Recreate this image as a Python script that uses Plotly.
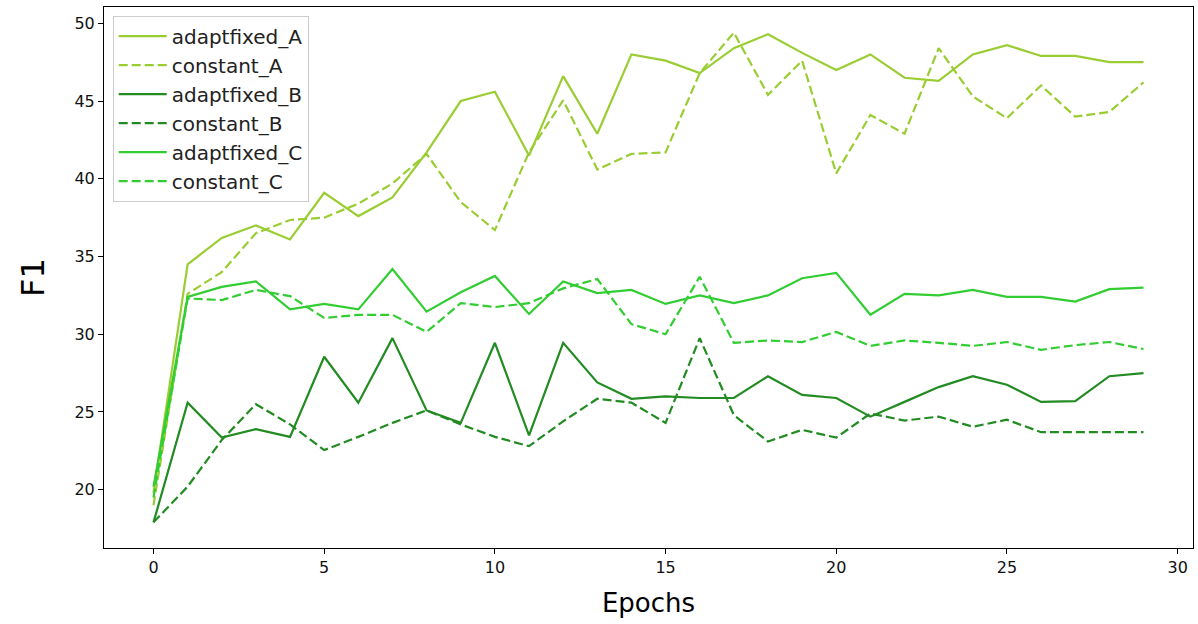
import plotly.graph_objects as go

epochs = list(range(30))

adaptfixed_A = [19.8, 34.5, 36.2, 37.0, 36.1, 39.1, 37.6, 38.8, 41.7, 45.0,
                45.6, 41.5, 46.6, 42.9, 48.0, 47.6, 46.8, 48.4, 49.3, 48.1,
                47.0, 48.0, 46.5, 46.3, 48.0, 48.6, 47.9, 47.9, 47.5, 47.5]
constant_A = [19.0, 32.6, 34.0, 36.5, 37.35, 37.5, 38.4, 39.7, 41.6, 38.5,
              36.7, 41.7, 45.05, 40.6, 41.6, 41.7, 46.8, 49.4, 45.4, 47.6,
              40.35, 44.1, 42.9, 48.4, 45.3, 43.9, 46.0, 44.0, 44.3, 46.2]
adaptfixed_B = [17.9, 25.6, 23.35, 23.9, 23.4, 28.55, 25.6, 29.75, 25.1, 24.3,
                29.45, 23.5, 29.45, 26.9, 25.85, 26.0, 25.9, 25.9, 27.3, 26.1,
                25.9, 24.7, 25.65, 26.6, 27.3, 26.75, 25.65, 25.7, 27.3, 27.5]
constant_B = [17.9, 20.2, 23.2, 25.5, 24.2, 22.55, 23.4, 24.3, 25.1, 24.2,
              23.4, 22.8, 24.4, 25.85, 25.6, 24.3, 29.75, 24.8, 23.1, 23.85,
              23.35, 24.9, 24.45, 24.7, 24.05, 24.5, 23.7, 23.7, 23.7, 23.7]
adaptfixed_C = [20.2, 32.4, 33.05, 33.4, 31.6, 31.95, 31.6, 34.2, 31.45, 32.7,
                33.75, 31.3, 33.4, 32.65, 32.85, 31.95, 32.5, 32.0, 32.5, 33.6,
                33.95, 31.25, 32.6, 32.5, 32.85, 32.4, 32.4, 32.1, 32.9, 33.0]
constant_C = [19.5, 32.3, 32.2, 32.85, 32.45, 31.05, 31.25, 31.25, 30.15, 32.0,
              31.75, 32.0, 32.95, 33.55, 30.65, 30.0, 33.7, 29.45, 29.6, 29.5,
              30.15, 29.25, 29.6, 29.45, 29.25, 29.5, 29.0, 29.3, 29.5, 29.05]

series = [
    ("adaptfixed_A", adaptfixed_A, "#9ACD32", "solid"),
    ("constant_A", constant_A, "#9ACD32", "9px,4px"),
    ("adaptfixed_B", adaptfixed_B, "#228B22", "solid"),
    ("constant_B", constant_B, "#228B22", "9px,4px"),
    ("adaptfixed_C", adaptfixed_C, "#32CD32", "solid"),
    ("constant_C", constant_C, "#32CD32", "9px,4px"),
]

fig = go.Figure()
for name, vals, color, dash in series:
    fig.add_trace(go.Scatter(x=epochs, y=vals, mode="lines", name=name,
                             line=dict(color=color, width=2.2, dash=dash)))

axis_common = dict(showgrid=False, zeroline=False, showline=True, linecolor="black",
                   linewidth=1, mirror=True, ticks="outside", ticklen=5,
                   tickcolor="black", automargin=False,
                   tickfont=dict(family="DejaVu Sans", size=16, color="#111"))

fig.update_layout(
    width=1198, height=624,
    margin=dict(l=104, r=5, t=7, b=76),
    plot_bgcolor="white", paper_bgcolor="white",
    font=dict(family="DejaVu Sans", color="black"),
    xaxis=dict(range=[-1.45, 30.45], tickvals=[0, 5, 10, 15, 20, 25, 30],
               title=dict(text="Epochs", font=dict(size=26), standoff=17), **axis_common),
    yaxis=dict(range=[16.25, 51.05], tickvals=[20, 25, 30, 35, 40, 45, 50],
               title=dict(text="F1", font=dict(size=32), standoff=20), **axis_common),
    legend=dict(x=0.008, y=0.984, xanchor="left", yanchor="top",
                bgcolor="rgba(255,255,255,0.85)", bordercolor="#cccccc", borderwidth=1,
                font=dict(size=20, color="#222"), tracegroupgap=0, itemwidth=48),
    showlegend=True,
)

fig.write_html("out.html", config={"displayModeBar": False},
               post_script="document.body.style.margin='0';document.body.style.overflow='hidden';")
